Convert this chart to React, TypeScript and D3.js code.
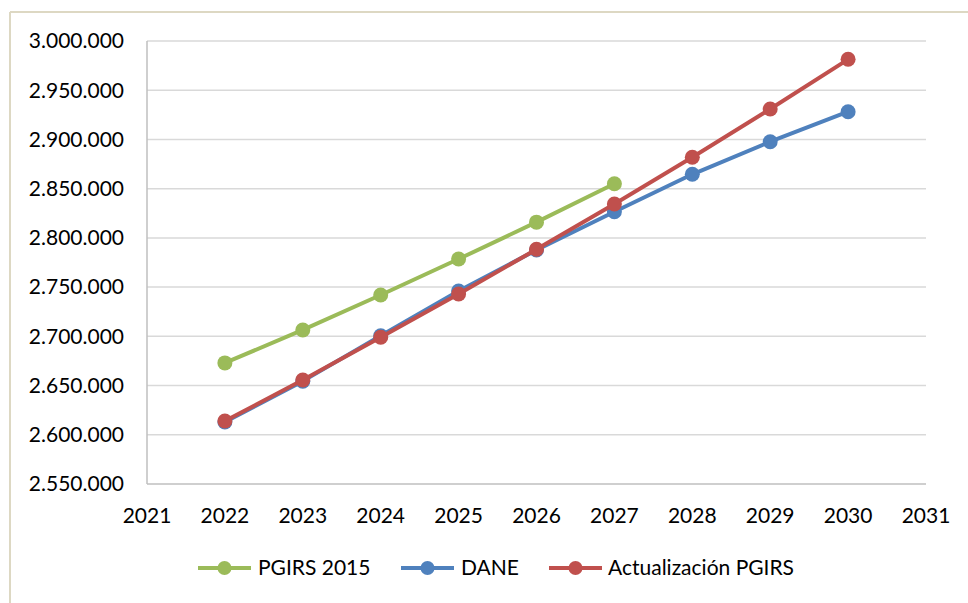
import * as d3 from 'd3';

const years = [2022, 2023, 2024, 2025, 2026, 2027, 2028, 2029, 2030];
const pgirs2015 = [2673000, 2706500, 2742000, 2778500, 2816000, 2855000];
const dane = [2613000, 2654500, 2700500, 2746000, 2787700, 2826600, 2864600, 2897700, 2928200];
const actualizacion = [2614000, 2655600, 2699000, 2743000, 2788400, 2834400, 2881900, 2930900, 2981400];
const yTicks = [2550000, 2600000, 2650000, 2700000, 2750000, 2800000, 2850000, 2900000, 2950000, 3000000];
const xTicks = [2021, 2022, 2023, 2024, 2025, 2026, 2027, 2028, 2029, 2030, 2031];

const series = [
	{ name: 'PGIRS 2015', color: '#9BBB59', values: pgirs2015 },
	{ name: 'DANE', color: '#4F81BD', values: dane },
	{ name: 'Actualización PGIRS', color: '#C0504D', values: actualizacion },
];

const W = 968;
const H = 603;
const FONT = 'Lato, "Open Sans", sans-serif';

const fmt = (v: number) => d3.format(',')(v).replace(/,/g, '.');

export default function App() {
	const x = d3.scaleLinear().domain([2021, 2031]).range([147, 926]);
	const y = d3.scaleLinear().domain([2550000, 3000000]).range([484, 41]);

	const line = d3
		.line<number>()
		.x((_, i) => x(years[i]))
		.y((d) => y(d));

	// legend item positions (line start, text start)
	const legendItems = [
		{ lx: 198, tx: 258 },
		{ lx: 401, tx: 461 },
		{ lx: 549, tx: 608 },
	];
	const legendY = 568;

	return (
		<div style={{ position: 'absolute', left: 0, top: 0 }}>
			<svg width={W} height={H} style={{ display: 'block', background: '#fff' }}>
				{/* chart frame: only top and left edges visible */}
				<line x1={10} y1={12} x2={W} y2={12} stroke='#DDD8C3' strokeWidth={2} />
				<line x1={10} y1={12} x2={10} y2={H} stroke='#DDD8C3' strokeWidth={2} />

				{yTicks.map((t) => (
					<g key={t}>
						{t > 2550000 && (
							<line x1={x(2021)} x2={x(2031)} y1={y(t)} y2={y(t)} stroke='#D9D9D9' strokeWidth={1.5} />
						)}
						<text
							x={124}
							y={y(t)}
							dy='0.35em'
							textAnchor='end'
							fontFamily={FONT}
							fontSize={21}
							fill='#000'
						>
							{fmt(t)}
						</text>
					</g>
				))}

				{/* axes */}
				<line x1={x(2021)} x2={x(2021)} y1={y(3000000)} y2={y(2550000)} stroke='#BFBFBF' strokeWidth={1.5} />
				<line x1={x(2021)} x2={x(2031)} y1={y(2550000)} y2={y(2550000)} stroke='#BFBFBF' strokeWidth={1.5} />

				{xTicks.map((t) => (
					<text
						key={t}
						x={x(t)}
						y={516}
						dy='0.35em'
						textAnchor='middle'
						fontFamily={FONT}
						fontSize={21}
						fill='#000'
					>
						{t}
					</text>
				))}

				{series.map((s) => (
					<g key={s.name}>
						<path d={line(s.values) ?? ''} fill='none' stroke={s.color} strokeWidth={4} strokeLinejoin='round' />
						{s.values.map((v, i) => (
							<circle key={i} cx={x(years[i])} cy={y(v)} r={7.5} fill={s.color} />
						))}
					</g>
				))}

				{series.map((s, i) => {
					const it = legendItems[i];
					return (
						<g key={s.name}>
							<line x1={it.lx} x2={it.lx + 53} y1={legendY} y2={legendY} stroke={s.color} strokeWidth={4} />
							<circle cx={it.lx + 26.5} cy={legendY} r={7} fill={s.color} />
							<text
								x={it.tx}
								y={legendY}
								dy='0.35em'
								fontFamily={FONT}
								fontSize={21}
								fill='#000'
							>
								{s.name}
							</text>
						</g>
					);
				})}
			</svg>
		</div>
	);
}
